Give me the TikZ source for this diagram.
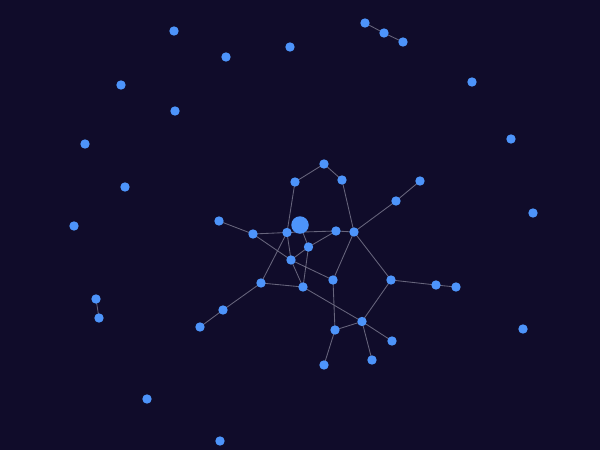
\documentclass[tikz,border=0pt]{standalone}
\begin{document}
\begin{tikzpicture}[x=1pt,y=-1pt,
  dot/.style={circle,fill=nodeblue,inner sep=0pt,minimum size=9.4pt},
  bigdot/.style={circle,fill=nodeblue,inner sep=0pt,minimum size=17.5pt},
  edge/.style={draw=edgegray,line width=0.85pt}]
\definecolor{nodeblue}{HTML}{4D94FA}
\definecolor{edgegray}{HTML}{67657C}
\definecolor{bg}{HTML}{100C2A}
\fill[bg] (0,0) rectangle (600,450);
\useasboundingbox (0,0) rectangle (600,450);
% edge end points (coordinates so that edges lie under the dots)
\foreach \n/\x/\y in {o4/365/23,o5/384/33,o6/403/42,o15/96/299,o16/99/318,
  A/324/164,B/295/182,C/342/180,D/420/181,E/396/201,F/219/221,G/300/225,
  H/253/234,I/287/232.5,J/336/231,K/354/232,L/308.5/247,M/291/260,N/333/280,
  O/391/280,P/436/285,Q/456/287,R/261/283,S/303/287,T/223/310,U/200/327,
  V/362/321.5,W/335/330,X/392/341,Y/372/360,Z/324/365}
  \coordinate (\n) at (\x,\y);
\path[edge] (o4) -- (o5) (o5) -- (o6) (o15) -- (o16)
  (A) -- (B) (A) -- (C) (B) -- (I) (C) -- (K) (D) -- (E) (E) -- (K)
  (F) -- (H) (H) -- (I) (I) -- (J) (J) -- (K) (H) -- (M) (M) -- (N)
  (I) -- (M) (I) -- (R) (G) -- (L) (L) -- (J) (L) -- (M) (L) -- (S)
  (M) -- (S) (R) -- (S) (R) -- (T) (T) -- (U) (S) -- (V) (K) -- (N)
  (K) -- (O) (O) -- (P) (P) -- (Q) (O) -- (V) (N) -- (W) (W) -- (V)
  (V) -- (X) (V) -- (Y) (W) -- (Z);
% nodes
\foreach \n in {o4,o5,o6,o15,o16,A,B,C,D,E,F,H,I,J,K,L,M,N,O,P,Q,R,S,T,U,V,W,X,Y,Z}
  \node[dot] (n\n) at (\n) {};
\node[bigdot] (nG) at (G) {};
\node[dot] (o1) at (174,31) {};
\node[dot] (o2) at (226,57) {};
\node[dot] (o3) at (290,47) {};
\node[dot] (o7) at (472,82) {};
\node[dot] (o8) at (121,85) {};
\node[dot] (o9) at (175,111) {};
\node[dot] (o10) at (511,139) {};
\node[dot] (o11) at (85,144) {};
\node[dot] (o12) at (125,187) {};
\node[dot] (o13) at (533,213) {};
\node[dot] (o14) at (74,226) {};
\node[dot] (o17) at (523,329) {};
\node[dot] (o18) at (147,399) {};
\node[dot] (o19) at (220,441) {};
\end{tikzpicture}
\end{document}
